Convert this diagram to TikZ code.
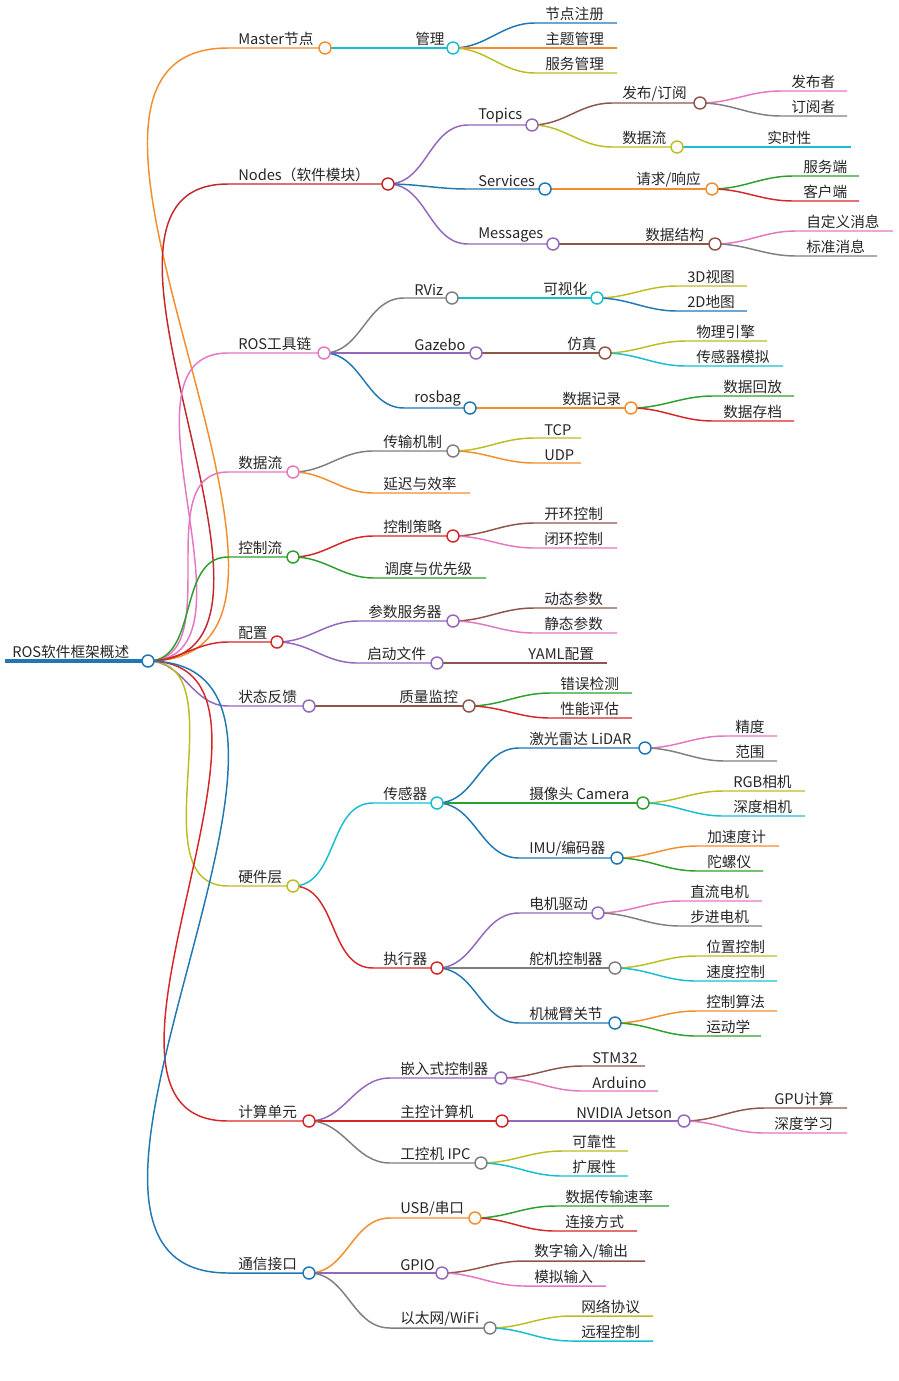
\documentclass[tikz,border=0pt]{standalone}
\usepackage{fontspec}
\setmainfont{Noto Sans CJK SC}
\definecolor{cO}{HTML}{F28E2B}
\definecolor{cR}{HTML}{D62728}
\definecolor{cDR}{HTML}{C0282E}
\definecolor{cP}{HTML}{E377C2}
\definecolor{cG}{HTML}{2CA02C}
\definecolor{cU}{HTML}{9467BD}
\definecolor{cY}{HTML}{BCBD22}
\definecolor{cB}{HTML}{1F77B4}
\definecolor{cC}{HTML}{17BECF}
\definecolor{cN}{HTML}{8C564B}
\definecolor{cA}{HTML}{7F7F7F}
\pgfdeclarelayer{bg}
\pgfsetlayers{bg,main}
\tikzset{lw/.style={line width=1.1pt},
 lbl/.style={inner sep=1.5pt,font=\fontsize{11}{13}\selectfont,text=black!85}}
\newcommand\mm[7]{%
 \coordinate (#1) at (#4,#5);
 \begin{pgfonlayer}{bg}\draw[#6,lw] (#2) to[out=0,in=180] (#3,#5) -- (#1);\end{pgfonlayer}
 \node[lbl,anchor=south west] (#1-t) at (#3+8,#5) {#7};
 \draw[#6,lw,fill=white] (#1) circle (6);}
\newcommand\ml[7]{%
 \coordinate (#1) at (#4,#5);
 \begin{pgfonlayer}{bg}\draw[#6,lw] (#2) to[out=0,in=180] (#3,#5) -- (#1);\end{pgfonlayer}
 \node[lbl,anchor=south west] (#1-t) at (#3+8,#5) {#7};}
\begin{document}
\begin{tikzpicture}[x=0.75pt,y=-0.75pt]
\useasboundingbox (0,0) rectangle (899,1381);
\coordinate (r0) at (5,661);
\coordinate (root) at (148,661);
\begin{pgfonlayer}{bg}\draw[cB,line width=3pt] (r0) -- (root);\end{pgfonlayer}
\node[lbl,anchor=south west] (root-t) at (10,661) {ROS软件框架概述};
% level 1
\mm{a}{root}{228}{325}{48}{cO}{Master节点}
\mm{b}{root}{228}{388}{184}{cDR}{Nodes（软件模块）}
\mm{c}{root}{228}{324}{353}{cP}{ROS工具链}
\mm{d}{root}{228}{293}{472}{cP}{数据流}
\mm{e}{root}{228}{293}{557}{cG}{控制流}
\mm{f}{root}{228}{277}{642}{cR}{配置}
\mm{g}{root}{228}{309}{706}{cU}{状态反馈}
\mm{h}{root}{228}{293}{886}{cY}{硬件层}
\mm{i}{root}{228}{309}{1121}{cR}{计算单元}
\mm{j}{root}{228}{309}{1273}{cB}{通信接口}
% Master
\mm{a1}{a}{405}{453}{48}{cC}{管理}
\ml{a11}{a1}{535}{617}{23}{cB}{节点注册}
\ml{a12}{a1}{535}{617}{48}{cO}{主题管理}
\ml{a13}{a1}{535}{617}{73}{cY}{服务管理}
% Nodes
\mm{b1}{b}{468}{532}{125}{cU}{Topics}
\mm{b2}{b}{468}{545}{189}{cB}{Services}
\mm{b3}{b}{468}{553}{244}{cU}{Messages}
\mm{b11}{b1}{612}{700}{103}{cN}{发布/订阅}
\mm{b12}{b1}{612}{677}{147}{cY}{数据流}
\ml{b111}{b11}{781}{847}{91}{cP}{发布者}
\ml{b112}{b11}{781}{847}{116}{cA}{订阅者}
\ml{b121}{b12}{757}{851}{147}{cC}{实时性}
\mm{b21}{b2}{626}{712}{189}{cO}{请求/响应}
\ml{b211}{b21}{793}{859}{176}{cG}{服务端}
\ml{b212}{b21}{793}{859}{201}{cR}{客户端}
\mm{b31}{b3}{635}{715}{244}{cN}{数据结构}
\ml{b311}{b31}{796}{893}{231}{cP}{自定义消息}
\ml{b312}{b31}{796}{877}{256}{cA}{标准消息}
% tools
\mm{c1}{c}{404}{452}{298}{cA}{RViz}
\mm{c2}{c}{404}{476}{353}{cU}{Gazebo}
\mm{c3}{c}{404}{470}{408}{cB}{rosbag}
\mm{c11}{c1}{533}{597}{298}{cC}{可视化}
\ml{c111}{c11}{677}{747}{286}{cY}{3D视图}
\ml{c112}{c11}{677}{747}{311}{cB}{2D地图}
\mm{c21}{c2}{557}{605}{353}{cN}{仿真}
\ml{c211}{c21}{686}{767}{341}{cY}{物理引擎}
\ml{c212}{c21}{686}{783}{366}{cC}{传感器模拟}
\mm{c31}{c3}{552}{631}{408}{cO}{数据记录}
\ml{c311}{c31}{713}{794}{396}{cG}{数据回放}
\ml{c312}{c31}{713}{794}{421}{cR}{数据存档}
% data flow
\mm{d1}{d}{373}{453}{451}{cA}{传输机制}
\ml{d2}{d}{373}{470}{493}{cO}{延迟与效率}
\ml{d11}{d1}{534}{581}{438}{cY}{TCP}
\ml{d12}{d1}{534}{581}{463}{cO}{UDP}
% control flow
\mm{e1}{e}{373}{453}{536}{cR}{控制策略}
\ml{e2}{e}{374}{486}{578}{cG}{调度与优先级}
\ml{e11}{e1}{534}{617}{523}{cN}{开环控制}
\ml{e12}{e1}{534}{617}{548}{cP}{闭环控制}
% config
\mm{f1}{f}{358}{453}{621}{cU}{参数服务器}
\mm{f2}{f}{357}{437}{663}{cU}{启动文件}
\ml{f11}{f1}{534}{617}{608}{cN}{动态参数}
\ml{f12}{f1}{534}{617}{633}{cP}{静态参数}
\ml{f21}{f2}{518}{607}{663}{cN}{YAML配置}
% feedback
\mm{g1}{g}{389}{469}{706}{cN}{质量监控}
\ml{g11}{g1}{550}{632}{693}{cG}{错误检测}
\ml{g12}{g1}{550}{632}{718}{cR}{性能评估}
% hardware
\mm{h1}{h}{373}{437}{803}{cC}{传感器}
\mm{h2}{h}{373}{437}{968}{cR}{执行器}
\mm{h11}{h1}{519}{645}{748}{cB}{激光雷达 LiDAR}
\mm{h12}{h1}{519}{643}{803}{cG}{摄像头 Camera}
\mm{h13}{h1}{519}{617}{858}{cB}{IMU/编码器}
\ml{h111}{h11}{725}{777}{736}{cP}{精度}
\ml{h112}{h11}{725}{777}{761}{cA}{范围}
\ml{h121}{h12}{723}{805}{791}{cY}{RGB相机}
\ml{h122}{h12}{723}{805}{816}{cC}{深度相机}
\ml{h131}{h13}{697}{779}{846}{cO}{加速度计}
\ml{h132}{h13}{697}{763}{871}{cG}{陀螺仪}
\mm{h21}{h2}{519}{598}{913}{cU}{电机驱动}
\mm{h22}{h2}{519}{615}{968}{cA}{舵机控制器}
\mm{h23}{h2}{519}{615}{1023}{cB}{机械臂关节}
\ml{h211}{h21}{680}{762}{901}{cP}{直流电机}
\ml{h212}{h21}{680}{762}{926}{cA}{步进电机}
\ml{h221}{h22}{696}{777}{956}{cY}{位置控制}
\ml{h222}{h22}{696}{777}{981}{cC}{速度控制}
\ml{h231}{h23}{696}{777}{1011}{cO}{控制算法}
\ml{h232}{h23}{696}{761}{1036}{cG}{运动学}
% compute
\mm{i1}{i}{390}{501}{1078}{cU}{嵌入式控制器}
\mm{i2}{i}{390}{502}{1121}{cR}{主控计算机}
\mm{i3}{i}{390}{481}{1163}{cA}{工控机 IPC}
\ml{i11}{i1}{582}{645}{1066}{cN}{STM32}
\ml{i12}{i1}{582}{658}{1091}{cP}{Arduino}
\mm{i21}{i2}{566}{684}{1121}{cU}{NVIDIA Jetson}
\ml{i211}{i21}{764}{847}{1108}{cN}{GPU计算}
\ml{i212}{i21}{764}{847}{1133}{cP}{深度学习}
\ml{i31}{i3}{562}{628}{1151}{cY}{可靠性}
\ml{i32}{i3}{562}{628}{1176}{cC}{扩展性}
% comm
\mm{j1}{j}{390}{475}{1218}{cO}{USB/串口}
\mm{j2}{j}{390}{442}{1273}{cU}{GPIO}
\mm{j3}{j}{390}{490}{1328}{cA}{以太网/WiFi}
\ml{j11}{j1}{555}{669}{1206}{cG}{数据传输速率}
\ml{j12}{j1}{555}{637}{1231}{cR}{连接方式}
\ml{j21}{j2}{524}{645}{1261}{cN}{数字输入/输出}
\ml{j22}{j2}{524}{606}{1286}{cP}{模拟输入}
\ml{j31}{j3}{571}{653}{1316}{cY}{网络协议}
\ml{j32}{j3}{571}{653}{1341}{cC}{远程控制}
\draw[cB,lw,fill=white] (root) circle (6);
\end{tikzpicture}
\end{document}
